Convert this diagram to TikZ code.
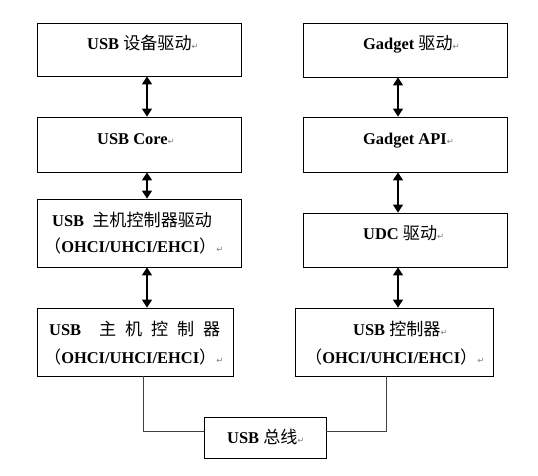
\documentclass[tikz,border=0pt]{standalone}
\usepackage{fontspec}
\setmainfont{Liberation Serif}
\newfontfamily\hanzifont[Scale=1.04]{Noto Sans CJK SC}
\newfontfamily\markfont{DejaVu Sans}
\usetikzlibrary{arrows.meta}
\newcommand{\hz}[1]{{\hanzifont\mdseries #1}}
\newcommand{\retmark}{{\markfont\mdseries\fontsize{8.5}{8.5}\selectfont\color{gray}↵}}

\begin{document}
\begin{tikzpicture}[x=1bp,y=-1bp,
	box/.style={draw,line width=0.8bp,inner sep=0pt,minimum width=204bp},
	txt/.style={anchor=base west,inner sep=0pt,font=\fontsize{16.5}{19}\selectfont\bfseries},
	link/.style={{Triangle[length=8bp,width=10bp]}-{Triangle[length=8bp,width=10bp]},line width=1.2bp},
	bus/.style={line width=0.8bp,black!75}]
		\useasboundingbox (0,0) rectangle (538,476);
		% host side
		\node[box,minimum height=53bp,at={(139,49.5)}] (devdrv) {};
		\node[box,minimum height=55bp,at={(139,144.5)}] (core) {};
		\node[box,minimum height=68bp,at={(139,233)}] (hcd) {};
		\node[box,minimum width=196bp,minimum height=68bp,at={(135,342)}] (hc) {};
		% device side
		\node[box,minimum height=54bp,at={(405,50)}] (gdrv) {};
		\node[box,minimum height=55bp,at={(405,144.5)}] (gapi) {};
		\node[box,minimum height=54bp,at={(405,240)}] (udc) {};
		\node[box,minimum width=198bp,minimum height=68bp,at={(394,342)}] (dc) {};
		\node[box,minimum width=122bp,minimum height=41bp,at={(265,437.5)}] (usbbus) {};
		% texts
		\node[txt,at={(87,50)}] (devdrvtxt) {USB \hz{设备驱动}\retmark};
		\node[txt,at={(97,145)}] (coretxt) {USB Core\retmark};
		\node[txt,at={(52,227)}] (hcdtxta) {USB\ \ \hz{主机控制器驱动}};
		\node[txt,at={(44,253)}] (hcdtxtb) {\hz{（}OHCI/UHCI/EHCI\hz{）}\retmark};
		\node[txt,at={(49,335)}] (hctxta) {\makebox[171bp][s]{USB\ \ \hz{主} \hz{机} \hz{控} \hz{制} \hz{器}}};
		\node[txt,at={(44,363)}] (hctxtb) {\hz{（}OHCI/UHCI/EHCI\hz{）}\retmark};
		\node[txt,at={(363,50)}] (gdrvtxt) {Gadget \hz{驱动}\retmark};
		\node[txt,at={(363,145)}] (gapitxt) {Gadget API\retmark};
		\node[txt,at={(363,240)}] (udctxt) {UDC \hz{驱动}\retmark};
		\node[txt,at={(353,335)}] (dctxta) {USB \hz{控制器}\retmark};
		\node[txt,at={(305,363)}] (dctxtb) {\hz{（}OHCI/UHCI/EHCI\hz{）}\retmark};
		\node[txt,at={(227,443)}] (bustxt) {USB \hz{总线}\retmark};
		% arrows
		\coordinate (la) at (147,0);
		\coordinate (ra) at (398,0);
		\draw[link] (devdrv.south -| la) -- (core.north -| la);
		\draw[link] (core.south -| la) -- (hcd.north -| la);
		\draw[link] (hcd.south -| la) -- (hc.north -| la);
		\draw[link] (gdrv.south -| ra) -- (gapi.north -| ra);
		\draw[link] (gapi.south -| ra) -- (udc.north -| ra);
		\draw[link] (udc.south -| ra) -- (dc.north -| ra);
		% bus lines
		\coordinate (lb) at (143,0);
		\coordinate (rb) at (386,0);
		\draw[bus] (hc.south -| lb) |- ([yshift=6.5bp]usbbus.west);
		\draw[bus] ([yshift=6.5bp]usbbus.east) -| (dc.south -| rb);
\end{tikzpicture}
\end{document}
